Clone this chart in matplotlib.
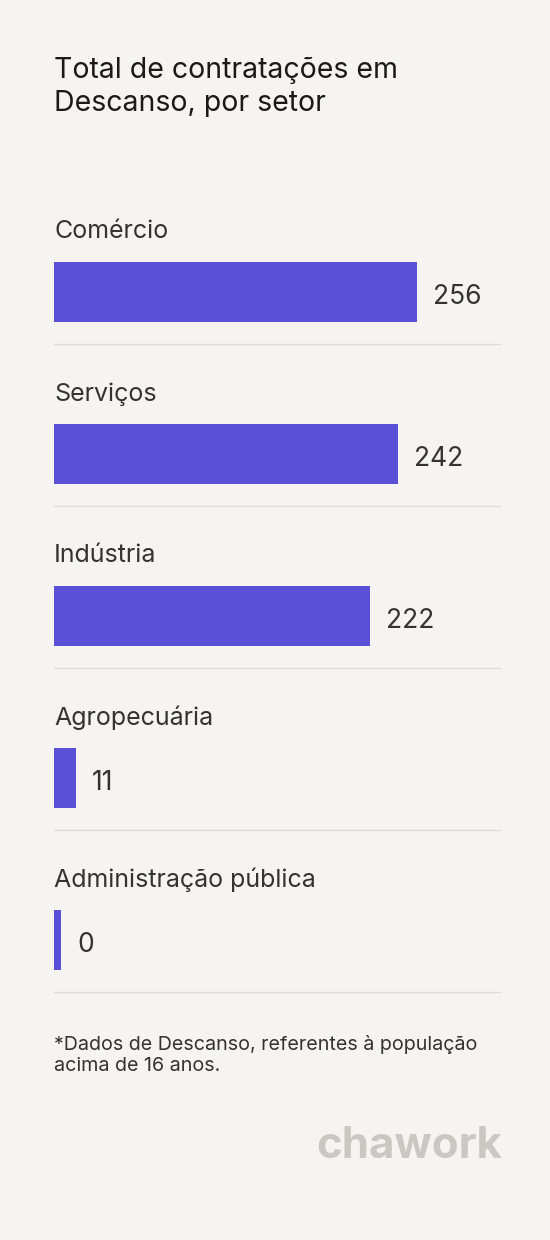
import matplotlib
matplotlib.use("Agg")
import matplotlib.pyplot as plt

categories = ["Comércio", "Serviços", "Indústria", "Agropecuária", "Administração pública"]
values = [256, 242, 222, 11, 0]
title = "Total de contratações em\nDescanso, por setor"
footnote = "*Dados de Descanso, referentes à população\nacima de 16 anos."

plt.rcParams['font.family'] = ['Inter', 'DejaVu Sans']
bg = "#f5f4f2"
fig = plt.figure(figsize=(5.5, 12.4), dpi=100, facecolor=bg)
ax = fig.add_axes([0, 0, 1, 1])
ax.set_facecolor(bg)
ax.set_xlim(0, 550)
ax.set_ylim(1240, 0)
ax.axis("off")

ax.text(54, 87, title, fontsize=20.5, color="#1a1a1a", va="center", linespacing=1.33)

scale = 356 / max(values)
for i, (c, v) in enumerate(zip(categories, values)):
    off = i * 162
    ax.text(54, 232 + off, c, fontsize=18, color="#333333", va="center")
    w = 7 + v * scale
    ax.barh(292 + off, w, height=60, left=54, color="#5a50d8")
    ax.text(54 + w + 16, 297 + off, str(v), fontsize=19, color="#333333", va="center")
    ax.plot([54, 500], [344 + off, 344 + off], color="#dcdcdc", lw=1)

ax.text(54, 1055, footnote, fontsize=14.2, color="#333333", va="center", linespacing=1.25)
ax.text(502, 1146, "chawork", fontsize=31.5, color="#cac8c2", ha="right", va="center", fontweight="bold")

fig.savefig("out.png", dpi=100, facecolor=bg)
